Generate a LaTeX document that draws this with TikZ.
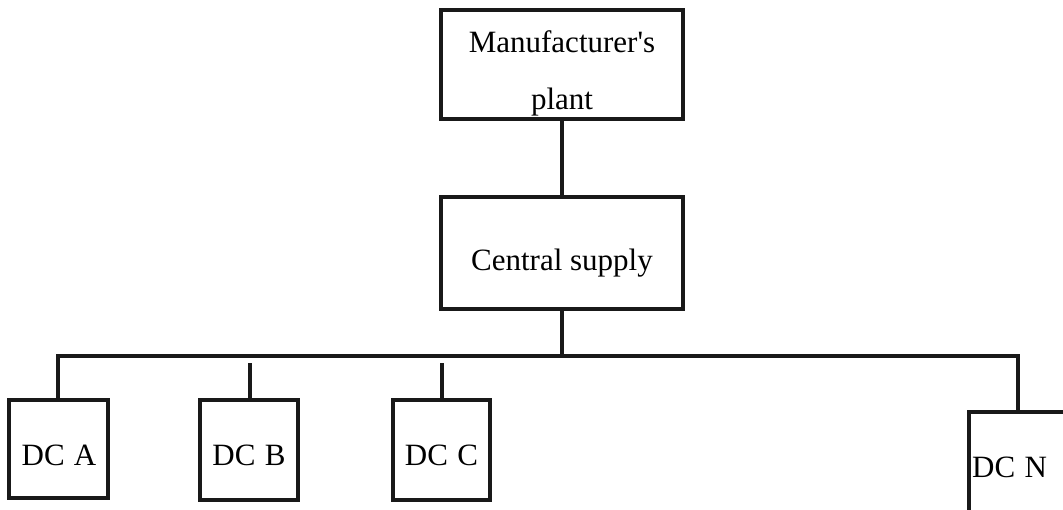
\documentclass[tikz,border=0pt]{standalone}
\usepackage{fontspec}
\setmainfont{Liberation Serif}[Ligatures=TeXOff]
\begin{document}
\begin{tikzpicture}[x=1pt,y=-1pt,
  box/.style={draw=black!90,line width=4pt,rectangle,inner sep=0pt},
  txt/.style={inner sep=0pt,anchor=base,font=\fontsize{31}{31}\selectfont},
  conn/.style={draw=black!90,line width=4pt}]
\useasboundingbox (0,0) rectangle (1063,509);
% boxes
\node[box,minimum width=242pt,minimum height=109pt] (mp) at (562,64.5) {};
\node[box,minimum width=242pt,minimum height=112pt] (cs) at (562,253) {};
\node[box,minimum width=99pt,minimum height=98pt] (dca) at (58.5,449) {};
\node[box,minimum width=98pt,minimum height=100pt] (dcb) at (249,450) {};
\node[box,minimum width=97pt,minimum height=100pt] (dcc) at (441.5,450) {};
\node[box,minimum width=110pt,minimum height=110pt] (dcn) at (1024,467) {};
% texts
\node[txt] (mpt1) at (562,52) {Manufacturer's};
\node[txt] (mpt2) at (562,109) {plant};
\node[txt] (cst) at (562,270) {Central supply};
\node[txt] (dcat) at (59,465) {DC\hspace{0.3em}A};
\node[txt] (dcbt) at (249,465) {DC\hspace{0.3em}B};
\node[txt] (dcct) at (441.5,465) {DC\hspace{0.3em}C};
\node[txt,anchor=base west] (dcnt) at (972,477) {DC\hspace{0.3em}N};
% connectors
\coordinate (busm) at (562,356);
\coordinate (busa) at (58,356);
\coordinate (busn) at (1018,356);
\coordinate (stb) at (250,363);
\coordinate (stc) at (442,363);
\draw[conn] (mp.south) -- (cs.north);
\draw[conn] (cs.south) -- (busm);
\draw[conn,line join=miter] (busa |- dca.north) -- (busa) -- (busn) -- (busn |- dcn.north);
\draw[conn] (stb) -- (stb |- dcb.north);
\draw[conn] (stc) -- (stc |- dcc.north);
\end{tikzpicture}
\end{document}
